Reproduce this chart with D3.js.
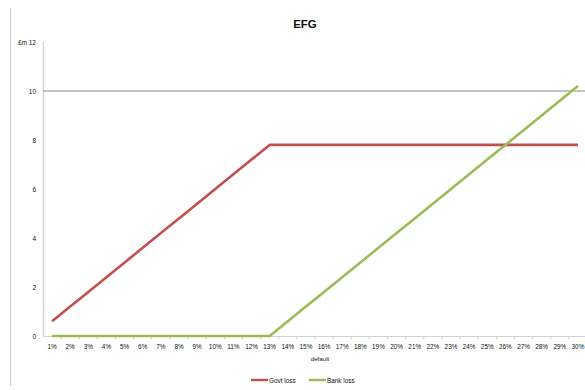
<!DOCTYPE html>
<html>
<head>
<meta charset="utf-8">
<script src="https://cdn.jsdelivr.net/npm/d3@7"></script>
<style>
  html, body { margin: 0; padding: 0; background: #fff; }
  svg { display: block; font-family: "Liberation Sans", Arial, sans-serif; }
</style>
</head>
<body>
<svg id="chart" width="585" height="390"></svg>
<script>
// Default rate categories
const categories = ["1%","2%","3%","4%","5%","6%","7%","8%","9%","10%","11%","12%","13%","14%","15%",
  "16%","17%","18%","19%","20%","21%","22%","23%","24%","25%","26%","27%","28%","29%","30%"];

// Losses in £m for each default rate
const govtLoss = [0.6,1.2,1.8,2.4,3.0,3.6,4.2,4.8,5.4,6.0,6.6,7.2,7.8,7.8,7.8,
  7.8,7.8,7.8,7.8,7.8,7.8,7.8,7.8,7.8,7.8,7.8,7.8,7.8,7.8,7.8];
const bankLoss = [0,0,0,0,0,0,0,0,0,0,0,0,0,0.6,1.2,
  1.8,2.4,3.0,3.6,4.2,4.8,5.4,6.0,6.6,7.2,7.8,8.4,9.0,9.6,10.2];

const yTicks = [0, 2, 4, 6, 8, 10];
const seriesNames = ["Govt loss", "Bank loss"];
const seriesColors = ["#C0504D", "#9BBB59"];

const svg = d3.select("#chart");

const x = d3.scalePoint().domain(categories).range([43, 587]).padding(0.5);
const y = d3.scaleLinear().domain([0, 12]).range([336, 42]);

// outer frame edge on the left
svg.append("line").attr("x1", 10.5).attr("x2", 10.5).attr("y1", 8).attr("y2", 386)
  .attr("stroke", "#c8c8c8").attr("stroke-width", 1);

// title
svg.append("text").attr("x", 305).attr("y", 28).attr("text-anchor", "middle")
  .attr("font-size", 11.5).attr("font-weight", "bold").attr("fill", "#111").text("EFG");

// vertical axis line
svg.append("line").attr("x1", 43.5).attr("x2", 43.5).attr("y1", y(12)).attr("y2", y(0))
  .attr("stroke", "#d4d4d4").attr("stroke-width", 1.5);

// horizontal line at 10
svg.append("line").attr("x1", 43).attr("x2", 585).attr("y1", y(10)).attr("y2", y(10))
  .attr("stroke", "#8a8a8a").attr("stroke-width", 1.2);

// y tick labels
svg.append("g").selectAll("text").data(yTicks).join("text")
  .attr("x", 36).attr("y", d => y(d) + 2.5).attr("text-anchor", "end")
  .attr("font-size", 6.5).attr("fill", "#111").text(d => d);
svg.append("text").attr("x", 36).attr("y", y(12) + 2.5).attr("text-anchor", "end")
  .attr("font-size", 6.5).attr("fill", "#111").text("£m 12");

// x axis with ticks at category boundaries
const step = x.step();
const bounds = categories.map(c => x(c) + step / 2);
svg.append("g").selectAll("line").data(bounds).join("line")
  .attr("x1", d => d).attr("x2", d => d).attr("y1", y(0)).attr("y2", y(0) + 3)
  .attr("stroke", "#cfcfcf").attr("stroke-width", 1);
svg.append("line").attr("x1", 43).attr("x2", 585).attr("y1", y(0) + 0.5).attr("y2", y(0) + 0.5)
  .attr("stroke", "#d4d4d4").attr("stroke-width", 1);

svg.append("g").selectAll("text").data(categories).join("text")
  .attr("x", d => x(d)).attr("y", 349).attr("text-anchor", "middle")
  .attr("font-size", 6.4).attr("fill", "#111").text(d => d);

svg.append("text").attr("x", 320).attr("y", 361).attr("text-anchor", "middle")
  .attr("font-size", 6.2).attr("fill", "#111").text("default");

// series lines
const line = d3.line().x((d, i) => x(categories[i])).y(d => y(d));
[govtLoss, bankLoss].forEach((vals, k) => {
  svg.append("path").datum(vals).attr("d", line).attr("fill", "none")
    .attr("stroke", seriesColors[k]).attr("stroke-width", 2.6)
    .attr("stroke-linejoin", "round");
});

// legend
const legendX = [251, 309];
seriesNames.forEach((name, k) => {
  svg.append("line").attr("x1", legendX[k]).attr("x2", legendX[k] + 17)
    .attr("y1", 380).attr("y2", 380).attr("stroke", seriesColors[k]).attr("stroke-width", 2.4);
  svg.append("text").attr("x", legendX[k] + 18).attr("y", 382.5)
    .attr("font-size", 6.4).attr("fill", "#111").text(name);
});
</script>
</body>
</html>
